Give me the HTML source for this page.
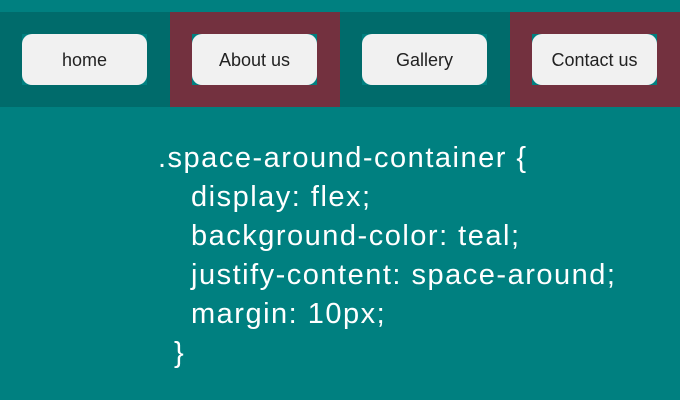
<!DOCTYPE html>
<html><head><style>
body{margin:0;width:680px;height:400px;background:#008080;overflow:hidden;font-family:"Liberation Sans",sans-serif;position:relative}
.bar{position:absolute;top:12px;left:0;width:680px;height:95px;display:flex}
.cell{width:170px;height:95px;background:#006b6b;position:relative}
.cell.m{background:#73313f}
.btn{position:absolute;left:22px;top:22px;width:125px;height:51px;background:#008080}
.btn div{width:125px;height:51px;background:#f1f1f1;border-radius:10px;display:flex;align-items:center;justify-content:center;font-size:18px;color:#222;box-sizing:border-box;padding-top:2px}
.code{position:absolute;color:#fff;font-size:29px;line-height:39px;white-space:pre;letter-spacing:1.5px}
</style></head><body>
<div class="bar">
<div class="cell"><div class="btn"><div>home</div></div></div>
<div class="cell m"><div class="btn"><div>About us</div></div></div>
<div class="cell"><div class="btn"><div>Gallery</div></div></div>
<div class="cell m"><div class="btn"><div>Contact us</div></div></div>
</div>
<div class="code" style="left:158px;top:139px">.space-around-container {</div>
<div class="code" style="left:191px;top:178px">display: flex;
background-color: teal;
justify-content: space-around;
margin: 10px;</div>
<div class="code" style="left:174px;top:334px">}</div>
</body></html>
